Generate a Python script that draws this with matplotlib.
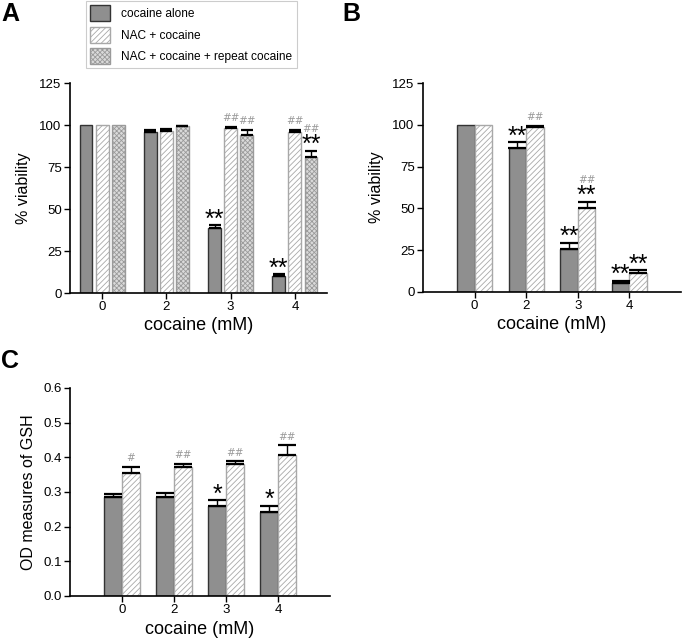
import numpy as np
import matplotlib
matplotlib.use('Agg')
import matplotlib.pyplot as plt
from matplotlib.patches import Patch

plt.rcParams['font.family'] = ['Liberation Sans', 'DejaVu Sans']
plt.rcParams['hatch.linewidth'] = 0.6

# data
doses = ['0', '2', '3', '4']

# panel A
a_coc = [100, 95.6, 38.4, 10.0]
a_coc_err = [0, 1.2, 2.0, 1.1]
a_nac = [100, 96.5, 98.5, 95.8]
a_nac_err = [0, 1.3, 0.6, 1.3]
a_rep = [100, 99.4, 94.3, 80.8]
a_rep_err = [0, 0.3, 2.8, 4.0]
a_coc_mark = ['', '', '**', '**']
a_nac_mark = ['', '', '##', '##']
a_rep_mark = ['', '', '##', '**##']

# panel B
b_coc = [100, 86.2, 25.9, 5.4]
b_coc_err = [0, 3.4, 3.6, 1.2]
b_nac = [100, 98.9, 50.4, 11.5]
b_nac_err = [0, 0.6, 3.5, 1.4]
b_coc_mark = ['', '**', '**', '**']
b_nac_mark = ['', '##', '**##', '**']

# panel C
c_coc = [0.286, 0.285, 0.260, 0.241]
c_coc_err = [0.008, 0.012, 0.016, 0.019]
c_nac = [0.355, 0.373, 0.381, 0.407]
c_nac_err = [0.017, 0.008, 0.007, 0.028]
c_coc_mark = ['', '', '*', '*']
c_nac_mark = ['#', '##', '##', '##']

labels = ['cocaine alone', 'NAC + cocaine', 'NAC + cocaine + repeat cocaine']

style_coc = dict(facecolor='#8f8f8f', edgecolor='#333333', linewidth=1.0)
style_nac = dict(facecolor='white', edgecolor='#a8a8a8', hatch='//////', linewidth=1.0)
style_rep = dict(facecolor='#dadada', edgecolor='#9a9a9a', hatch='xxxxxxx', linewidth=1.0)


def marks(ax, x, top, mark):
    # stars black, hashes small and gray; hashes go above stars
    hash_base = 4
    if '*' in mark:
        ax.annotate(mark.replace('#', ''), (x, top), xytext=(0, -1),
                    textcoords='offset points', ha='center', va='baseline',
                    fontsize=18, color='black')
        hash_base = 13.5
    if '#' in mark:
        ax.annotate(mark.replace('*', ''), (x, top), xytext=(0, hash_base),
                    textcoords='offset points', ha='center', va='baseline',
                    fontsize=7.5, color='#9a9a9a', family='DejaVu Sans')


def draw_series(ax, xs, vals, errs, style, width, mk):
    ax.bar(xs, vals, width, **style, zorder=2)
    xs_e = [xx for xx, e in zip(xs, errs) if e > 0]
    v_e = [v for v, e in zip(vals, errs) if e > 0]
    e_e = [e for e in errs if e > 0]
    ax.errorbar(xs_e, v_e, yerr=[np.zeros(len(e_e)), e_e], fmt='none',
                ecolor='black', elinewidth=1.0, capsize=width * 20, capthick=1.6, zorder=3)
    for xx, v, e, m in zip(xs, vals, errs, mk):
        if m:
            marks(ax, xx, v + e, m)


def style_axes(ax):
    for s in ['top', 'right']:
        ax.spines[s].set_visible(False)
    for s in ['left', 'bottom']:
        ax.spines[s].set_linewidth(1.2)
    ax.tick_params(direction='out', length=4, width=1.0, labelsize=9.5, pad=2)
    ax.set_xlabel('cocaine (mM)', fontsize=13, labelpad=3)


fig = plt.figure(figsize=(6.82, 6.38), dpi=100)
x = np.arange(len(doses))

# panel A
axA = fig.add_axes([70/682, 1-293/638, 257/682, 210/638])
w = 0.2
draw_series(axA, x - 0.25, a_coc, a_coc_err, style_coc, w, a_coc_mark)
draw_series(axA, x, a_nac, a_nac_err, style_nac, w, a_nac_mark)
draw_series(axA, x + 0.25, a_rep, a_rep_err, style_rep, w, a_rep_mark)
axA.set_xlim(-0.5, 3.5)
axA.set_ylim(0, 125)
axA.set_yticks([0, 25, 50, 75, 100, 125])
axA.set_xticks(x)
axA.set_xticklabels(doses)
axA.set_ylabel('% viability', fontsize=11.5, labelpad=6)
style_axes(axA)

# panel B
axB = fig.add_axes([423/682, 1-292/638, 258/682, 209/638])
wb = 0.34
draw_series(axB, x - 0.17, b_coc, b_coc_err, style_coc, wb, b_coc_mark)
draw_series(axB, x + 0.17, b_nac, b_nac_err, style_nac, wb, b_nac_mark)
axB.set_xlim(-1, 4)
axB.set_ylim(0, 125)
axB.set_yticks([0, 25, 50, 75, 100, 125])
axB.set_xticks(x)
axB.set_xticklabels(doses)
axB.set_ylabel('% viability', fontsize=11.5, labelpad=6)
style_axes(axB)

# panel C
axC = fig.add_axes([70/682, 1-596/638, 260/682, 208/638])
draw_series(axC, x - 0.17, c_coc, c_coc_err, style_coc, wb, c_coc_mark)
draw_series(axC, x + 0.17, c_nac, c_nac_err, style_nac, wb, c_nac_mark)
axC.set_xlim(-1, 4)
axC.set_ylim(0, 0.6)
yt = np.arange(0, 0.61, 0.1)
axC.set_yticks(yt)
axC.set_yticklabels(['%.1f' % t for t in yt])
axC.set_xticks(x)
axC.set_xticklabels(doses)
axC.set_ylabel('OD measures of GSH', fontsize=11.5, labelpad=5)
style_axes(axC)

# panel letters
fig.text(1/682, 1-2/638, 'A', fontsize=18, fontweight='bold', va='top')
fig.text(342/682, 1-2/638, 'B', fontsize=18, fontweight='bold', va='top')
fig.text(1/682, 1-349/638, 'C', fontsize=18, fontweight='bold', va='top')

# legend
handles = [Patch(**style_coc), Patch(**style_nac), Patch(**style_rep)]
leg = fig.legend(handles, labels, loc='upper left', bbox_to_anchor=(86/682, 1-1/638),
                 fontsize=8.6, frameon=True, fancybox=False, edgecolor='#c0c0c0',
                 handlelength=1.7, handleheight=1.7, labelspacing=0.45,
                 borderpad=0.35, handletextpad=0.9, borderaxespad=0)
leg.get_frame().set_linewidth(0.8)

fig.savefig('out.png', dpi=100)
